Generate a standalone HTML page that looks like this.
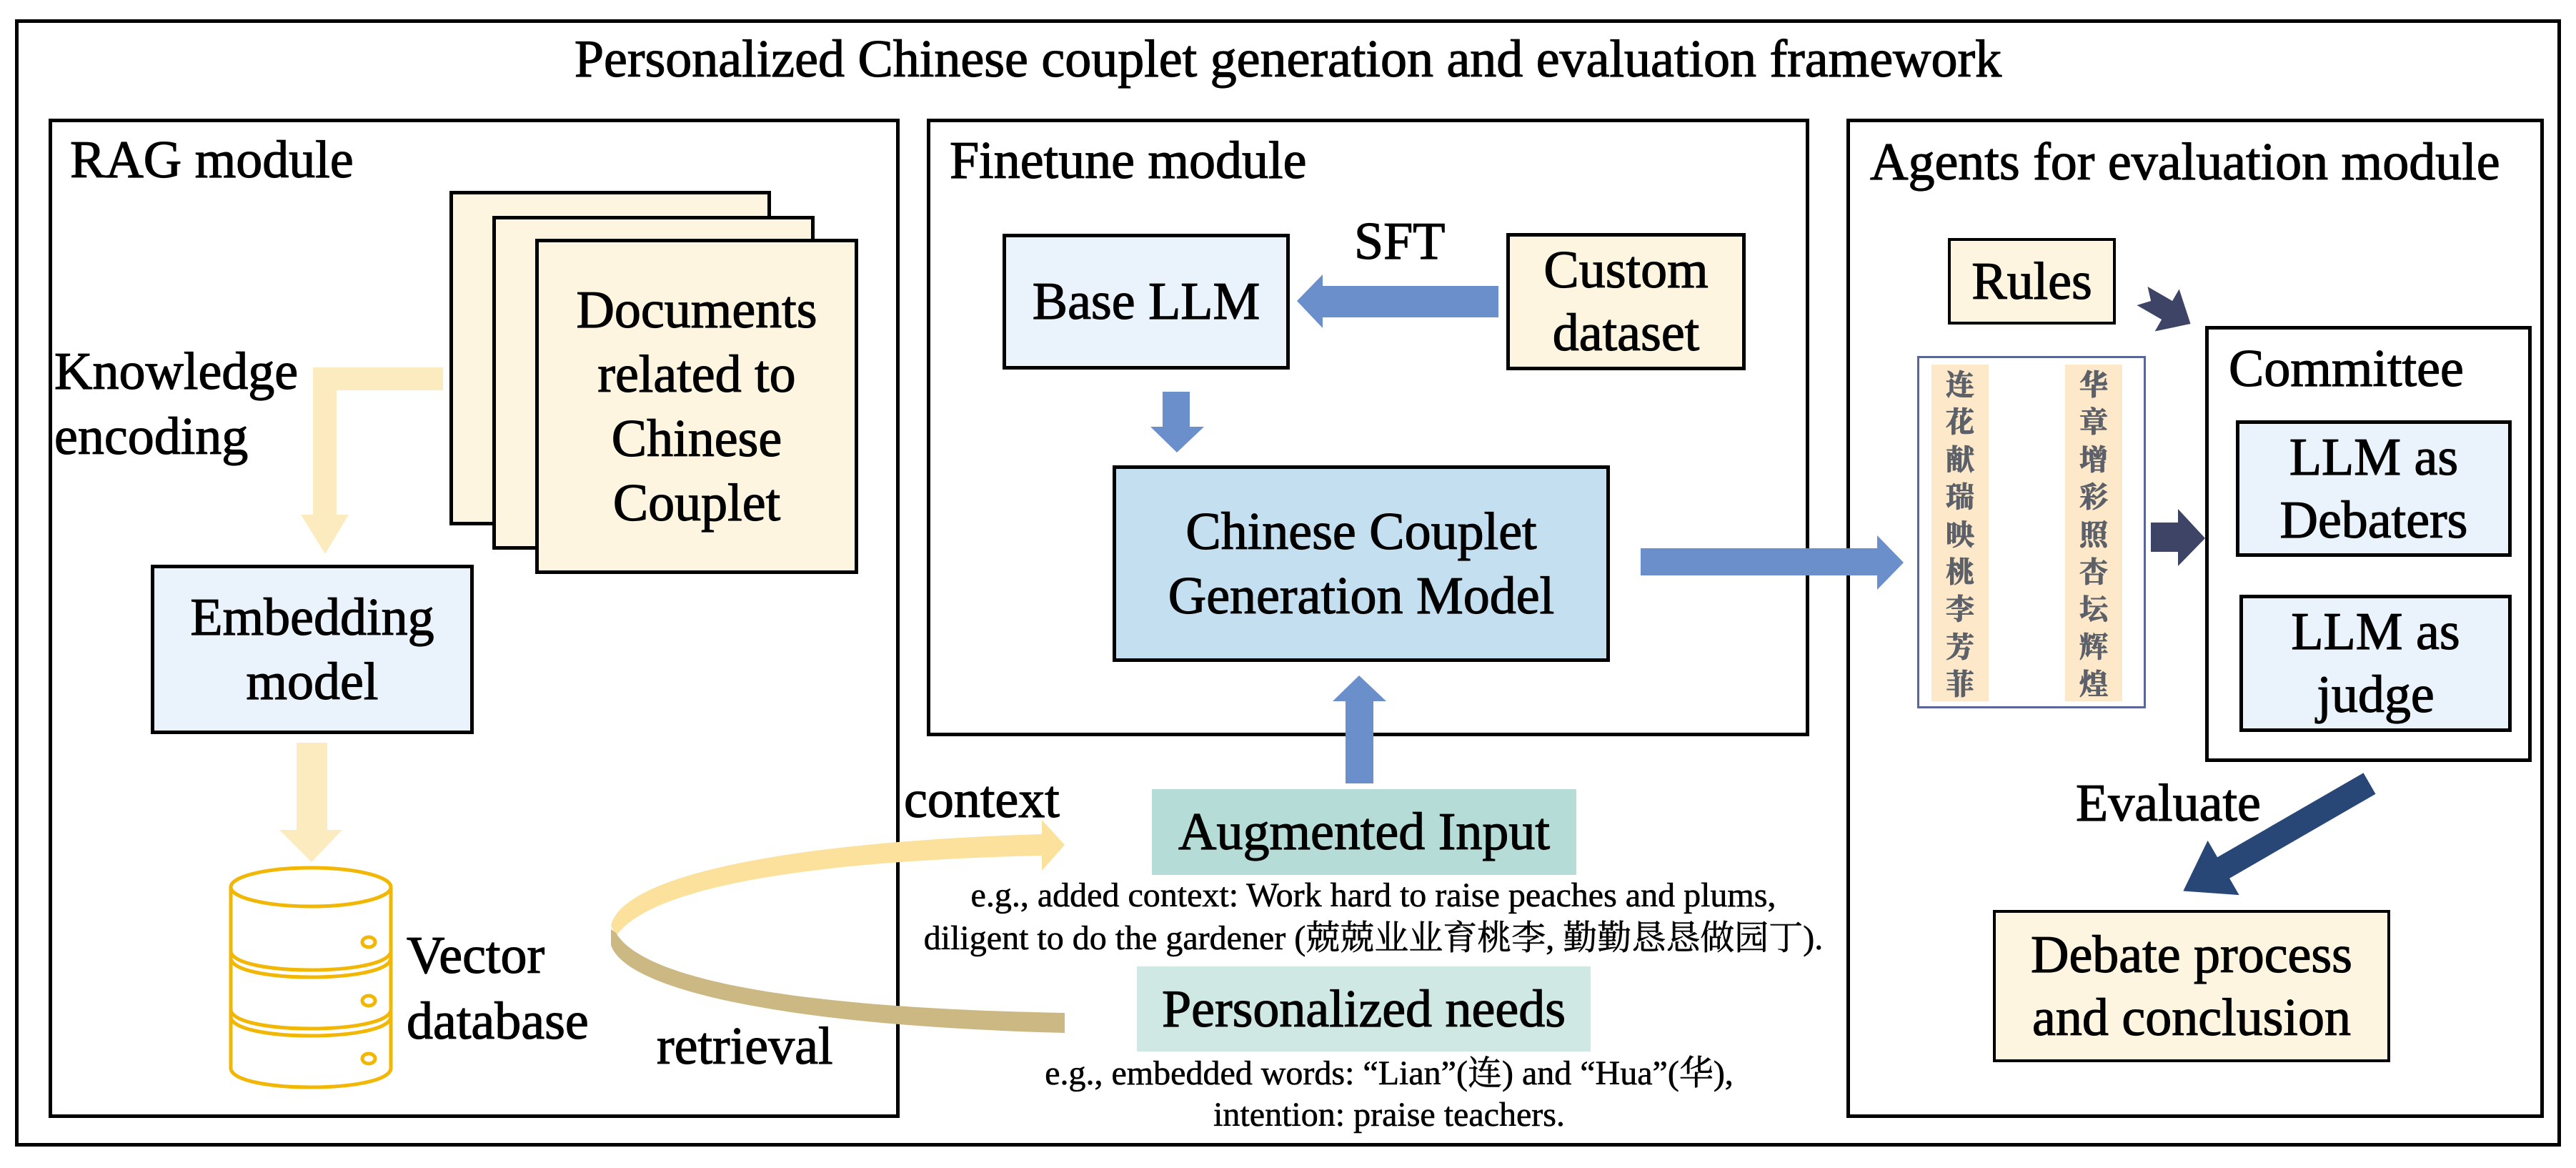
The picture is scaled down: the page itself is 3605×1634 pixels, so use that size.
<!DOCTYPE html>
<html><head><meta charset="utf-8">
<style>
html,body{margin:0;padding:0;background:#fff;}
#c{position:relative;width:3605px;height:1634px;overflow:hidden;font-family:"Liberation Serif","Times New Roman",Times,"DejaVu Serif",serif;color:#000;-webkit-text-stroke:1.2px #000;}
.b{position:absolute;box-sizing:border-box;border:5px solid #000;}
.bx{position:absolute;box-sizing:border-box;border:5px solid #000;display:flex;align-items:center;justify-content:center;text-align:center;font-size:74px;line-height:88px;}
.t{position:absolute;font-size:74px;line-height:1;white-space:nowrap;}
.s{position:absolute;font-size:48px;line-height:1;white-space:nowrap;text-align:center;-webkit-text-stroke:0.6px #000;}
.cj{font-family:"Liberation Serif","Times New Roman","Noto Serif CJK SC","Noto Sans CJK SC",serif;}
.col{position:absolute;background:#fde8c9;display:flex;flex-direction:column;align-items:center;justify-content:space-between;padding:6px 0;box-sizing:border-box;font-family:"Noto Serif CJK SC","Noto Sans CJK SC","WenQuanYi Zen Hei",serif;font-weight:bold;font-size:40px;line-height:1;color:#5c6068;-webkit-text-stroke:1px #5c6068;}
svg{position:absolute;left:0;top:0;}
</style></head><body><div id="c">
<div class="b" style="left:21px;top:27px;width:3563px;height:1577px;"></div>
<div class="t" style="left:0;width:3605px;text-align:center;top:46px;">Personalized Chinese couplet generation and evaluation framework</div>

<div class="b" style="left:68px;top:166px;width:1191px;height:1398px;"></div>
<div class="t" style="left:98px;top:187px;">RAG module</div>
<div class="b" style="left:629px;top:267px;width:450px;height:468px;background:#fdf5e0;"></div>
<div class="b" style="left:689px;top:302px;width:451px;height:467px;background:#fdf5e0;"></div>
<div class="bx" style="left:749px;top:334px;width:452px;height:469px;background:#fdf5e0;line-height:90px;">Documents<br>related to<br>Chinese<br>Couplet</div>
<div class="t" style="left:76px;top:475px;line-height:91px;">Knowledge<br>encoding</div>
<div class="bx" style="left:211px;top:790px;width:452px;height:237px;background:#eaf3fb;line-height:90px;">Embedding<br>model</div>
<div class="t" style="left:569px;top:1291px;line-height:92px;">Vector<br>database</div>
<div class="t" style="left:919px;top:1427px;">retrieval</div>
<div class="t" style="left:1265px;top:1082px;">context</div>

<div class="b" style="left:1297px;top:166px;width:1235px;height:864px;"></div>
<div class="t" style="left:1329px;top:188px;">Finetune module</div>
<div class="bx" style="left:1403px;top:327px;width:402px;height:190px;background:#eaf3fb;">Base LLM</div>
<div class="t" style="left:1895px;top:301px;">SFT</div>
<div class="bx" style="left:2108px;top:326px;width:335px;height:192px;background:#fdf5e0;">Custom<br>dataset</div>
<div class="bx" style="left:1557px;top:651px;width:696px;height:275px;background:#c4dff0;line-height:90px;">Chinese Couplet<br>Generation Model</div>

<div class="bx" style="left:1612px;top:1104px;width:594px;height:120px;background:#b6dcd7;border:none;">Augmented Input</div>
<div class="s cj" style="left:1222px;width:1400px;top:1223px;line-height:60px;">e.g., added context: Work hard to raise peaches and plums,<br>diligent to do the gardener (兢兢业业育桃李, 勤勤恳恳做园丁).</div>
<div class="bx" style="left:1591px;top:1352px;width:635px;height:119px;background:#cfe8e4;border:none;">Personalized needs</div>
<div class="s cj" style="left:1244px;width:1400px;top:1473px;line-height:58px;">e.g., embedded words: “Lian”(连) and “Hua”(华),<br>intention: praise teachers.</div>

<div class="b" style="left:2584px;top:166px;width:976px;height:1398px;"></div>
<div class="t" style="left:2617px;top:190px;">Agents for evaluation module</div>
<div class="bx" style="left:2726px;top:333px;width:235px;height:121px;background:#fdf5e0;border-width:4px;">Rules</div>
<div style="position:absolute;left:2683px;top:498px;width:320px;height:493px;border:3px solid #5a6698;box-sizing:border-box;background:#fff;"></div>
<div class="col" style="left:2703px;top:510px;width:80px;height:471px;"><span>连</span><span>花</span><span>献</span><span>瑞</span><span>映</span><span>桃</span><span>李</span><span>芳</span><span>菲</span></div>
<div class="col" style="left:2890px;top:510px;width:80px;height:471px;"><span>华</span><span>章</span><span>增</span><span>彩</span><span>照</span><span>杏</span><span>坛</span><span>辉</span><span>煌</span></div>
<div class="b" style="left:3086px;top:456px;width:457px;height:610px;"></div>
<div class="t" style="left:3119px;top:479px;">Committee</div>
<div class="bx" style="left:3129px;top:588px;width:386px;height:191px;background:#eaf3fb;">LLM as<br>Debaters</div>
<div class="bx" style="left:3134px;top:832px;width:381px;height:192px;background:#eaf3fb;">LLM as<br>judge</div>
<div class="t" style="left:2905px;top:1087px;">Evaluate</div>
<div class="bx" style="left:2789px;top:1273px;width:556px;height:213px;background:#fdf5e0;border-width:4px;">Debate process<br>and conclusion</div>

<svg width="3605" height="1634" viewBox="0 0 3605 1634">
 <polygon points="620,514 438,514 438,720 421,720 455,775 488,720 471,720 471,546 620,546" fill="#fdebc0"/>
 <polygon points="415,1039 458,1039 458,1161 479,1161 436,1206 391,1161 415,1161" fill="#fdebc0"/>
 <g fill="none" stroke="#f2b705" stroke-width="5">
  <path d="M323,1241 L323,1494 C323,1530 547,1530 547,1494 L547,1241"/>
  <ellipse cx="435" cy="1241" rx="112" ry="27" fill="#fff"/>
  <path d="M323,1330 C323,1366 547,1366 547,1330"/>
  <path d="M323,1340 C323,1376 547,1376 547,1340"/>
  <path d="M323,1412 C323,1448 547,1448 547,1412"/>
  <path d="M323,1422 C323,1458 547,1458 547,1422"/>
  <ellipse cx="516" cy="1318" rx="9" ry="7"/>
  <ellipse cx="516" cy="1400" rx="9" ry="7"/>
  <ellipse cx="516" cy="1481" rx="9" ry="7"/>
 </g>
 <path d="M855,1295 C870,1225 1100,1178 1458,1167 L1458,1147 L1490,1182 L1458,1218 L1458,1197 C1110,1205 905,1245 862,1310 Z" fill="#fbe19c"/>
 <path d="M855,1300 L855,1322 C875,1385 1100,1435 1490,1445 L1490,1417 C1110,1410 900,1370 862,1305 Z" fill="#cbb883"/>
 <polygon points="2097,400 1851,400 1851,384 1815,421 1851,459 1851,444 2097,444" fill="#6a8fcb"/>
 <polygon points="1627,548 1665,548 1665,597 1685,597 1647,633 1610,597 1627,597" fill="#6a8fcb"/>
 <polygon points="1883,1096 1922,1096 1922,981 1940,981 1902,945 1865,981 1883,981" fill="#6a8fcb"/>
 <polygon points="2296,767 2627,767 2627,749 2664,787 2627,825 2627,805 2296,805" fill="#6a8fcb"/>
 <polygon points="3010,731 3048,731 3048,712 3086,753 3048,792 3048,772 3010,772" fill="#3d4466"/>
 <g transform="translate(2998,414) rotate(30)">
  <polygon points="0,-15 40,-15 40,-34 78,0 40,34 40,15 0,15 14,0" fill="#3d4466"/>
 </g>
 <g transform="translate(3316,1096) rotate(150)">
  <polygon points="0,-17 236,-17 236,-44 301,0 236,44 236,17 0,17" fill="#284777"/>
 </g>
</svg>
</div></body></html>
